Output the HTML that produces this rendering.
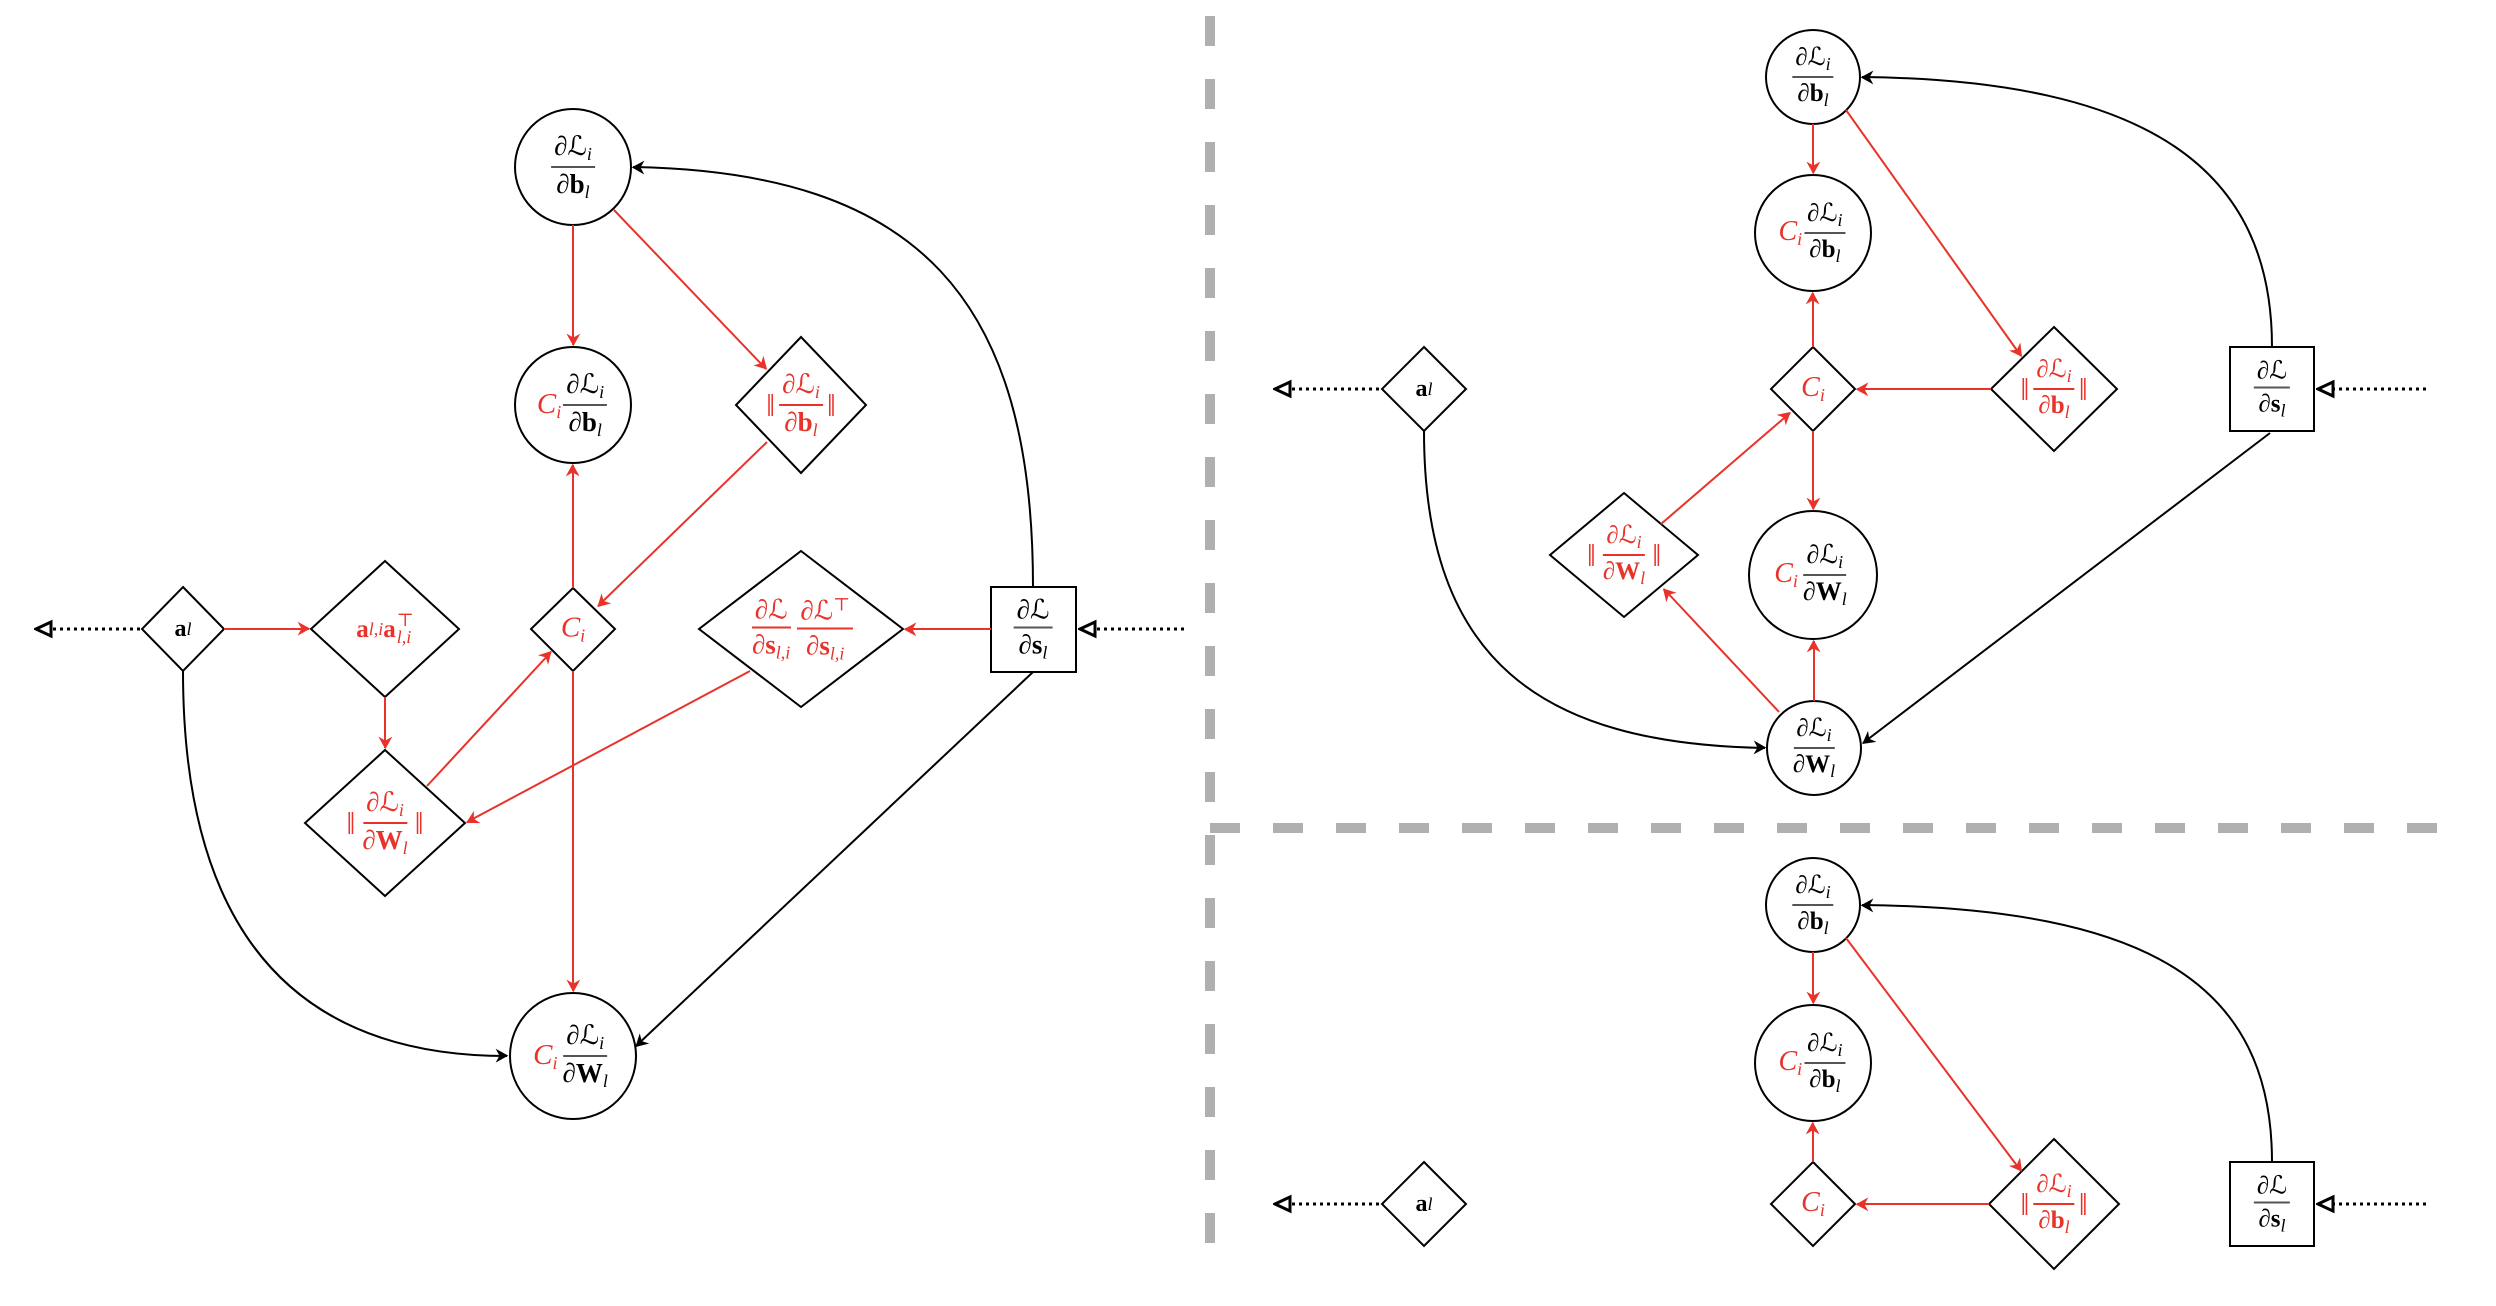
<!DOCTYPE html>
<html><head><meta charset="utf-8"><style>
html,body{margin:0;padding:0;background:#fff}
#c{position:relative;width:2496px;height:1306px;overflow:hidden;background:#fff}
svg{position:absolute;left:0;top:0}
.t{position:absolute;transform:translate(-50%,-50%);font-family:"Liberation Serif","DejaVu Serif",serif;font-size:27px;white-space:nowrap;display:flex;align-items:center;color:#000;line-height:1}
.r{color:#e8322a}
.f{display:inline-flex;flex-direction:column;align-items:center;vertical-align:middle;margin:0 2px}
.f>span{display:block;padding:0 3px}
.f>.n{border-bottom:2px solid currentColor;padding-bottom:3px}
.f>.d{padding-top:3px}
.f.k>.n{border-color:#555}
i{font-style:italic}
b{font-weight:bold}
sub{font-size:18px;font-style:italic;vertical-align:-5px}
sup{font-size:18px;vertical-align:9px}
.nb{font-size:32px;margin:0 2px}
.ss{display:inline-flex;flex-direction:column;font-size:18px;line-height:0.95;margin-left:1px}
</style></head><body><div id="c">
<svg width="2496" height="1306" viewBox="0 0 2496 1306">
<defs>
<marker id="ar" viewBox="0 0 10 10" refX="9" refY="5" markerWidth="7" markerHeight="7" orient="auto-start-reverse" markerUnits="userSpaceOnUse" style="overflow:visible"><path d="M-8,-6 L12,5 L-8,16 L-2,5 Z" fill="#e8322a" transform="scale(0.9)"/></marker>
<marker id="ab" viewBox="0 0 10 10" refX="9" refY="5" markerWidth="7" markerHeight="7" orient="auto-start-reverse" markerUnits="userSpaceOnUse" style="overflow:visible"><path d="M-8,-6 L12,5 L-8,16 L-2,5 Z" fill="#000" transform="scale(0.9)"/></marker>
<marker id="ao" viewBox="0 0 20 20" refX="18" refY="10" markerWidth="20" markerHeight="20" orient="auto" markerUnits="userSpaceOnUse"><path d="M18,10 L3,3 L3,17 Z" fill="#fff" stroke="#000" stroke-width="3"/></marker>
</defs>
<g stroke="#b0b0b0" stroke-width="10" fill="none">
<line x1="1210" y1="16" x2="1210" y2="1250" stroke-dasharray="30 33"/>
<line x1="1210" y1="828" x2="2440" y2="828" stroke-dasharray="30 33"/>
</g>
<g fill="#fff" stroke="#000" stroke-width="2">
<circle cx="573" cy="167" r="58"/>
<circle cx="573" cy="405" r="58"/>
<circle cx="573" cy="1056" r="63"/>
<polygon points="801,337 866,405 801,473 736,405"/>
<polygon points="183,587 224,629 183,671 142,629"/>
<polygon points="385,561 459,629 385,697 311,629"/>
<polygon points="573,588 615,629 573,671 531,629"/>
<polygon points="801,551 903,629 801,707 699,629"/>
<rect x="991" y="587" width="85" height="85"/>
<polygon points="385,750 465,823 385,896 305,823"/>
</g>
<g fill="none" stroke-width="2">
<path d="M1033,587 C1033,300 920,172 633,167" stroke="#000" marker-end="url(#ab)"/>
<path d="M183,671 C183,960 320,1056 507,1056" stroke="#000" marker-end="url(#ab)"/>
<line x1="1033" y1="672" x2="636" y2="1046" stroke="#000" marker-end="url(#ab)"/>
<g stroke="#e8322a" marker-end="url(#ar)">
<line x1="573" y1="225" x2="573" y2="345"/>
<line x1="614" y1="210" x2="766" y2="369"/>
<line x1="767" y1="442" x2="598" y2="606"/>
<line x1="573" y1="588" x2="573" y2="465"/>
<line x1="573" y1="671" x2="573" y2="991"/>
<line x1="224" y1="629" x2="309" y2="629"/>
<line x1="385" y1="697" x2="385" y2="748"/>
<line x1="427" y1="786" x2="551" y2="652"/>
<line x1="750" y1="671" x2="467" y2="822"/>
<line x1="991" y1="629" x2="905" y2="629"/>
</g>
<g stroke="#000" stroke-width="3" stroke-dasharray="3 4">
<line x1="140" y1="629" x2="36" y2="629" marker-end="url(#ao)"/>
<line x1="1184" y1="629" x2="1080" y2="629" marker-end="url(#ao)"/>
<line x1="1379" y1="389" x2="1275" y2="389" marker-end="url(#ao)"/>
<line x1="2426" y1="389" x2="2318" y2="389" marker-end="url(#ao)"/>
<line x1="1379" y1="1204" x2="1275" y2="1204" marker-end="url(#ao)"/>
<line x1="2426" y1="1204" x2="2318" y2="1204" marker-end="url(#ao)"/>
</g>
</g>
<g fill="#fff" stroke="#000" stroke-width="2">
<circle cx="1813" cy="77" r="47"/>
<circle cx="1813" cy="233" r="58"/>
<polygon points="1813,347 1855,389 1813,431 1771,389"/>
<polygon points="2054,327 2117,389 2054,451 1991,389"/>
<polygon points="1424,347 1466,389 1424,431 1382,389"/>
<rect x="2230" y="347" width="84" height="84"/>
<polygon points="1624,493 1698,555 1624,617 1550,555"/>
<circle cx="1813" cy="575" r="64"/>
<circle cx="1814" cy="748" r="47"/>
<circle cx="1813" cy="905" r="47"/>
<circle cx="1813" cy="1063" r="58"/>
<polygon points="1813,1162 1855,1204 1813,1246 1771,1204"/>
<polygon points="2054,1139 2119,1204 2054,1269 1989,1204"/>
<polygon points="1424,1162 1466,1204 1424,1246 1382,1204"/>
<rect x="2230" y="1162" width="84" height="84"/>
</g>
<g fill="none" stroke-width="2">
<path d="M2272,347 C2272,170 2150,80 1862,77" stroke="#000" marker-end="url(#ab)"/>
<path d="M1424,431 C1424,660 1540,744 1765,748" stroke="#000" marker-end="url(#ab)"/>
<line x1="2270" y1="433" x2="1863" y2="743" stroke="#000" marker-end="url(#ab)"/>
<path d="M2272,1162 C2272,985 2150,908 1862,905" stroke="#000" marker-end="url(#ab)"/>
<g stroke="#e8322a" marker-end="url(#ar)">
<line x1="1813" y1="124" x2="1813" y2="173"/>
<line x1="1846" y1="110" x2="2021" y2="356"/>
<line x1="1991" y1="389" x2="1857" y2="389"/>
<line x1="1813" y1="347" x2="1813" y2="293"/>
<line x1="1813" y1="431" x2="1813" y2="509"/>
<line x1="1814" y1="701" x2="1814" y2="641"/>
<line x1="1779" y1="712" x2="1664" y2="589"/>
<line x1="1661" y1="524" x2="1790" y2="413"/>
<line x1="1813" y1="952" x2="1813" y2="1003"/>
<line x1="1846" y1="938" x2="2021" y2="1171"/>
<line x1="1989" y1="1204" x2="1857" y2="1204"/>
<line x1="1813" y1="1162" x2="1813" y2="1123"/>
</g>
</g>
</svg>

<div class="t" style="left:573px;top:167px"><span class="f k"><span class="n">∂ℒ<sub>i</sub></span><span class="d">∂<b>b</b><sub>l</sub></span></span></div>
<div class="t" style="left:573px;top:405px"><i class="r" style="font-size:29px">C<sub>i</sub></i><span class="f k"><span class="n">∂ℒ<sub>i</sub></span><span class="d">∂<b>b</b><sub>l</sub></span></span></div>
<div class="t r" style="left:801px;top:405px"><span class="nb">‖</span><span class="f"><span class="n">∂ℒ<sub>i</sub></span><span class="d">∂<b>b</b><sub>l</sub></span></span><span class="nb">‖</span></div>
<div class="t" style="left:183px;top:629px;font-size:24px"><b>a</b><sub>l</sub></div>
<div class="t r" style="left:385px;top:629px;font-size:25px"><b>a</b><sub>l,i</sub><b>a</b><span class="ss"><span>⊤</span><i>l,i</i></span></div>
<div class="t r" style="left:573px;top:629px;font-size:29px"><i>C<sub>i</sub></i></div>
<div class="t r" style="left:801px;top:629px"><span class="f"><span class="n">∂ℒ</span><span class="d">∂<b>s</b><sub>l,i</sub></span></span><span class="f"><span class="n">∂ℒ<sup>⊤</sup></span><span class="d">∂<b>s</b><sub>l,i</sub></span></span></div>
<div class="t" style="left:1033px;top:629px"><span class="f k"><span class="n">∂ℒ</span><span class="d">∂<b>s</b><sub>l</sub></span></span></div>
<div class="t r" style="left:385px;top:823px"><span class="nb">‖</span><span class="f"><span class="n">∂ℒ<sub>i</sub></span><span class="d">∂<b>W</b><sub>l</sub></span></span><span class="nb">‖</span></div>
<div class="t" style="left:573px;top:1056px"><i class="r" style="font-size:29px">C<sub>i</sub></i><span class="f k"><span class="n">∂ℒ<sub>i</sub></span><span class="d">∂<b>W</b><sub>l</sub></span></span></div>

<div class="t" style="left:1813px;top:77px;font-size:25px"><span class="f k"><span class="n">∂ℒ<sub>i</sub></span><span class="d">∂<b>b</b><sub>l</sub></span></span></div>
<div class="t" style="left:1813px;top:233px;font-size:25px"><i class="r" style="font-size:28px">C<sub>i</sub></i><span class="f k"><span class="n">∂ℒ<sub>i</sub></span><span class="d">∂<b>b</b><sub>l</sub></span></span></div>
<div class="t r" style="left:1813px;top:389px;font-size:28px"><i>C<sub>i</sub></i></div>
<div class="t r" style="left:2054px;top:389px;font-size:25px"><span class="nb">‖</span><span class="f"><span class="n">∂ℒ<sub>i</sub></span><span class="d">∂<b>b</b><sub>l</sub></span></span><span class="nb">‖</span></div>
<div class="t" style="left:1424px;top:389px;font-size:24px"><b>a</b><sub>l</sub></div>
<div class="t" style="left:2272px;top:389px;font-size:25px"><span class="f k"><span class="n">∂ℒ</span><span class="d">∂<b>s</b><sub>l</sub></span></span></div>
<div class="t r" style="left:1624px;top:555px;font-size:25px"><span class="nb">‖</span><span class="f"><span class="n">∂ℒ<sub>i</sub></span><span class="d">∂<b>W</b><sub>l</sub></span></span><span class="nb">‖</span></div>
<div class="t" style="left:1813px;top:575px;font-size:26px"><i class="r" style="font-size:28px">C<sub>i</sub></i><span class="f k"><span class="n">∂ℒ<sub>i</sub></span><span class="d">∂<b>W</b><sub>l</sub></span></span></div>
<div class="t" style="left:1814px;top:748px;font-size:25px"><span class="f k"><span class="n">∂ℒ<sub>i</sub></span><span class="d">∂<b>W</b><sub>l</sub></span></span></div>

<div class="t" style="left:1813px;top:905px;font-size:25px"><span class="f k"><span class="n">∂ℒ<sub>i</sub></span><span class="d">∂<b>b</b><sub>l</sub></span></span></div>
<div class="t" style="left:1813px;top:1063px;font-size:25px"><i class="r" style="font-size:28px">C<sub>i</sub></i><span class="f k"><span class="n">∂ℒ<sub>i</sub></span><span class="d">∂<b>b</b><sub>l</sub></span></span></div>
<div class="t r" style="left:1813px;top:1204px;font-size:28px"><i>C<sub>i</sub></i></div>
<div class="t r" style="left:2054px;top:1204px;font-size:25px"><span class="nb">‖</span><span class="f"><span class="n">∂ℒ<sub>i</sub></span><span class="d">∂<b>b</b><sub>l</sub></span></span><span class="nb">‖</span></div>
<div class="t" style="left:1424px;top:1204px;font-size:24px"><b>a</b><sub>l</sub></div>
<div class="t" style="left:2272px;top:1204px;font-size:25px"><span class="f k"><span class="n">∂ℒ</span><span class="d">∂<b>s</b><sub>l</sub></span></span></div>
</div></body></html>
